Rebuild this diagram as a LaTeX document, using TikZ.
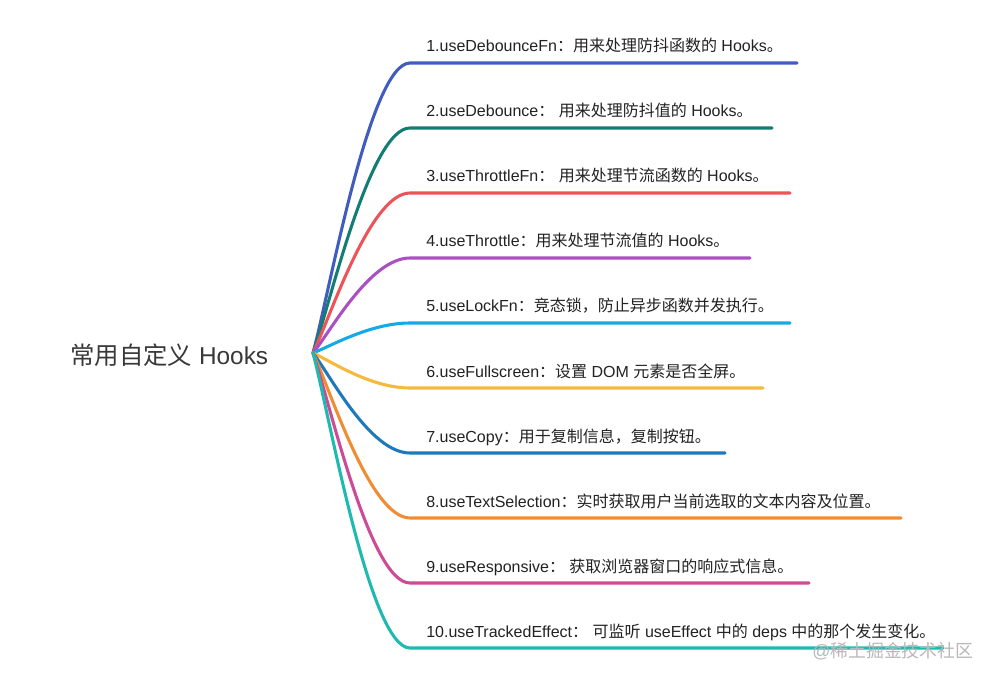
\documentclass[tikz,border=0pt]{standalone}
\usepackage{fontspec}
\setmainfont{Liberation Sans}
\newfontfamily\cjk{Noto Sans CJK SC}
\newcommand\zh[1]{{\cjk #1}}
\usetikzlibrary{calc}
\definecolor{c1}{RGB}{64,93,190}
\definecolor{c2}{RGB}{20,125,115}
\definecolor{c3}{RGB}{235,85,90}
\definecolor{c4}{RGB}{170,80,195}
\definecolor{c5}{RGB}{20,170,230}
\definecolor{c6}{RGB}{245,185,60}
\definecolor{c7}{RGB}{30,120,185}
\definecolor{c8}{RGB}{240,140,50}
\definecolor{c9}{RGB}{205,75,150}
\definecolor{c10}{RGB}{30,185,175}
\definecolor{txt}{RGB}{34,34,34}
\tikzset{
  lbl/.style={inner sep=0pt, text=txt, font=\fontsize{12}{14}\selectfont},
  rootlbl/.style={inner sep=0pt, text=txt!90, font=\fontsize{18.3}{21}\selectfont},
  br/.style={line width=2.3pt, line cap=round},
  wm/.style={inner sep=0pt, text=black!28, font=\fontsize{13.4}{15}\selectfont}
}
\newcommand\mybranch[5]{%
  \coordinate (s#1) at (410,#2);
  \coordinate (e#1) at (#3,#2);
  \node[lbl, anchor=base west] (l#1) at (426,#2-11) {#5};
  \draw[br, #4] (o) .. controls (330,{353+0.217*(#2-353)}) and ($(s#1)+(-40,0)$) .. (s#1) -- (e#1);
}
\begin{document}
\begin{tikzpicture}[x=0.75pt,y=-0.75pt]
\useasboundingbox (0,0) rectangle (994,680);
\fill[white] (0,0) rectangle (994,680);
\node[rootlbl, anchor=base west] (root) at (70,364) {\zh{常用自定义} Hooks};
\coordinate (o) at (313,353);
\mybranch{1}{63}{797}{c1}{1.useDebounceFn\zh{：用来处理防抖函数的} Hooks\zh{。}}
\mybranch{2}{128}{772}{c2}{2.useDebounce\zh{：} \zh{用来处理防抖值的} Hooks\zh{。}}
\mybranch{3}{193}{790}{c3}{3.useThrottleFn\zh{：} \zh{用来处理节流函数的} Hooks\zh{。}}
\mybranch{4}{258}{750}{c4}{4.useThrottle\zh{：用来处理节流值的} Hooks\zh{。}}
\mybranch{5}{323}{790}{c5}{5.useLockFn\zh{：竞态锁，防止异步函数并发执行。}}
\mybranch{6}{388}{763}{c6}{6.useFullscreen\zh{：设置} DOM \zh{元素是否全屏。}}
\mybranch{7}{453}{725}{c7}{7.useCopy\zh{：用于复制信息，复制按钮。}}
\mybranch{8}{518}{901}{c8}{8.useTextSelection\zh{：实时获取用户当前选取的文本内容及位置。}}
\mybranch{9}{583}{809}{c9}{9.useResponsive\zh{：} \zh{获取浏览器窗口的响应式信息。}}
\mybranch{10}{648}{943}{c10}{10.useTrackedEffect\zh{：} \zh{可监听} useEffect \zh{中的} deps \zh{中的那个发生变化。}}
\node[wm, anchor=west] (wmark) at (812,651) {@\zh{稀土掘金技术社区}};
\end{tikzpicture}
\end{document}
